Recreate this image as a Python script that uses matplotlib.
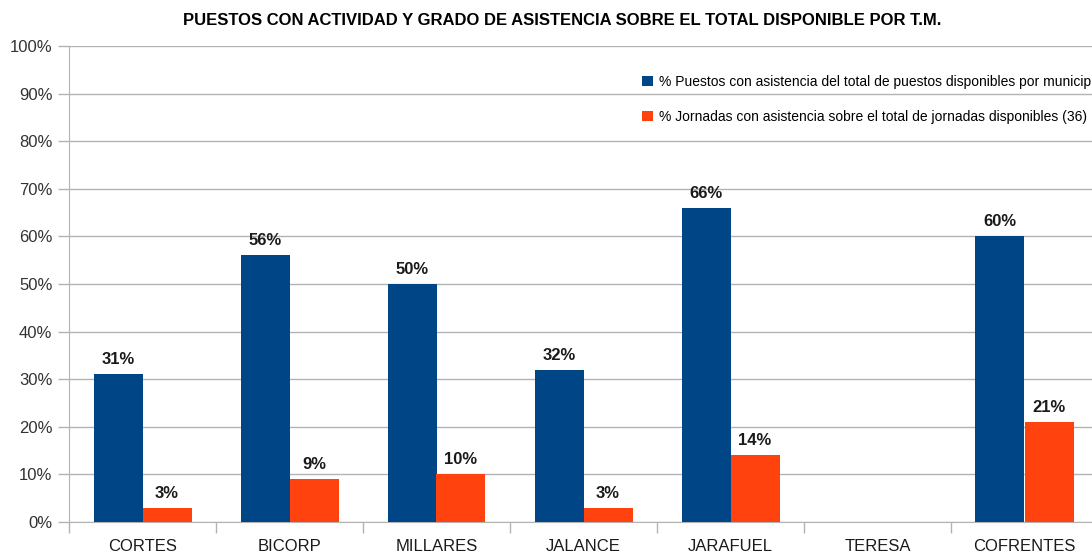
import matplotlib.pyplot as plt
import numpy as np

municipios = ['CORTES', 'BICORP', 'MILLARES', 'JALANCE', 'JARAFUEL', 'TERESA', 'COFRENTES']
puestos = [31, 56, 50, 32, 66, np.nan, 60]
jornadas = [3, 9, 10, 3, 14, np.nan, 21]
serie1 = '% Puestos con asistencia del total de puestos disponibles por municipio'
serie2 = '% Jornadas con asistencia sobre el total de jornadas disponibles (36)'

plt.rcParams['font.family'] = ['Liberation Sans', 'DejaVu Sans']

fig = plt.figure(figsize=(10.92, 5.54), dpi=100)
ax = fig.add_axes([69/1092, 1 - 522/554, (1098 - 69)/1092, 476/554])

x = np.arange(len(municipios))
w = 1/3
b1 = ax.bar(x - w/2, puestos, w, color='#004586', label=serie1, zorder=3)
b2 = ax.bar(x + w/2, jornadas, w, color='#ff420e', label=serie2, zorder=3)

for bars, vals in [(b1, puestos), (b2, jornadas)]:
    for rect, v in zip(bars, vals):
        if np.isnan(v):
            continue
        ax.annotate(f'{v:.0f}%', (rect.get_x() + rect.get_width()/2, v),
                    xytext=(0, 5), textcoords='offset points', ha='center', va='bottom',
                    fontsize=12, fontweight='bold', color='#1a1a1a')

ax.set_xlim(-0.5, len(municipios) - 0.5)
ax.set_ylim(0, 100)
ax.set_yticks(np.arange(0, 101, 10))
ax.set_yticklabels([f'{t}%' for t in range(0, 101, 10)], fontsize=12, color='#333333')
ax.set_xticks(x)
ax.set_xticklabels(municipios, fontsize=12, color='#1a1a1a')
ax.set_xticks(np.arange(-0.5, len(municipios)), minor=True)
ax.tick_params(axis='x', which='major', length=0, pad=12)
ax.tick_params(axis='x', which='minor', length=8, color='#b3b3b3', width=1)
ax.tick_params(axis='y', length=8, color='#b3b3b3', width=1, pad=4)
ax.grid(axis='y', color='#b3b3b3', linewidth=1, zorder=0)
for s in ['top', 'right']:
    ax.spines[s].set_visible(False)
for s in ['left', 'bottom']:
    ax.spines[s].set_color('#b3b3b3')

fig.suptitle('PUESTOS CON ACTIVIDAD Y GRADO DE ASISTENCIA SOBRE EL TOTAL DISPONIBLE POR T.M.',
             x=562/1092, y=1 - 13/554, va='top', fontsize=12, fontweight='bold')

ax.legend(loc='upper left', bbox_to_anchor=(642/1092, 1 - 75/554), bbox_transform=fig.transFigure,
          frameon=False, fontsize=10, handlelength=0.8, handleheight=0.8, handletextpad=0.4,
          labelspacing=1.5, borderaxespad=0, borderpad=0)

fig.savefig('out.png', dpi=100)
